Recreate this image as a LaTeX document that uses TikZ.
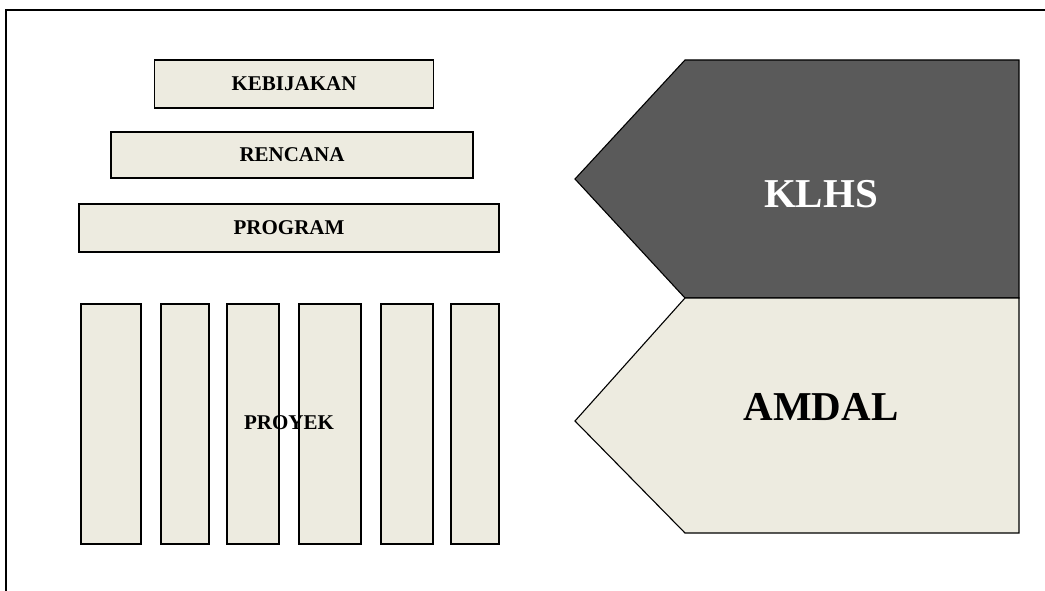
\documentclass[tikz,border=0pt]{standalone}
\usepackage{fontspec}
\setmainfont{Liberation Serif}
\definecolor{beige}{HTML}{EDEBE0}
\definecolor{darkgrey}{HTML}{5A5A5A}
\begin{document}
\begin{tikzpicture}[x=1pt,y=-1pt,
    levelbox/.style={draw, line width=1.6pt, fill=beige, font=\fontsize{21}{24}\selectfont\bfseries, inner sep=0pt},
    bar/.style={draw, line width=1.6pt, fill=beige},
    tool/.style={draw, line width=1.1pt},
    bigtext/.style={font=\fontsize{41}{46}\selectfont\bfseries}]
    \useasboundingbox (0,0) rectangle (1045,591);
    \draw[line width=1.6pt] (6,10) rectangle (1080,640);

    \node[levelbox, minimum width=279pt, minimum height=48pt] (kebijakan) at (294,84) {KEBIJAKAN};
    \node[levelbox, minimum width=362pt, minimum height=46pt] (rencana) at (292,155) {RENCANA};
    \node[levelbox, minimum width=420pt, minimum height=48pt] (program) at (289,228) {PROGRAM};

    \foreach \xa/\xb in {81/141, 161/209, 227/279, 299/361, 381/433, 451/499}
      \filldraw[bar] (\xa,304) rectangle (\xb,544);
    \node[font=\fontsize{21}{24}\selectfont\bfseries] (proyek) at (289,423) {PROYEK};

    \filldraw[tool, fill=darkgrey]
    (685,60) -- (1019,60) -- (1019,298) -- (685,298) -- (575,179) -- cycle;
    \filldraw[tool, fill=beige]
    (685,298) -- (1019,298) -- (1019,533) -- (685,533) -- (575,421) -- cycle;

    \node[bigtext, text=white] (klhs) at (821,194) {KLHS};
    \node[bigtext] (amdal) at (821,407) {AMDAL};
  \end{tikzpicture}
\end{document}
